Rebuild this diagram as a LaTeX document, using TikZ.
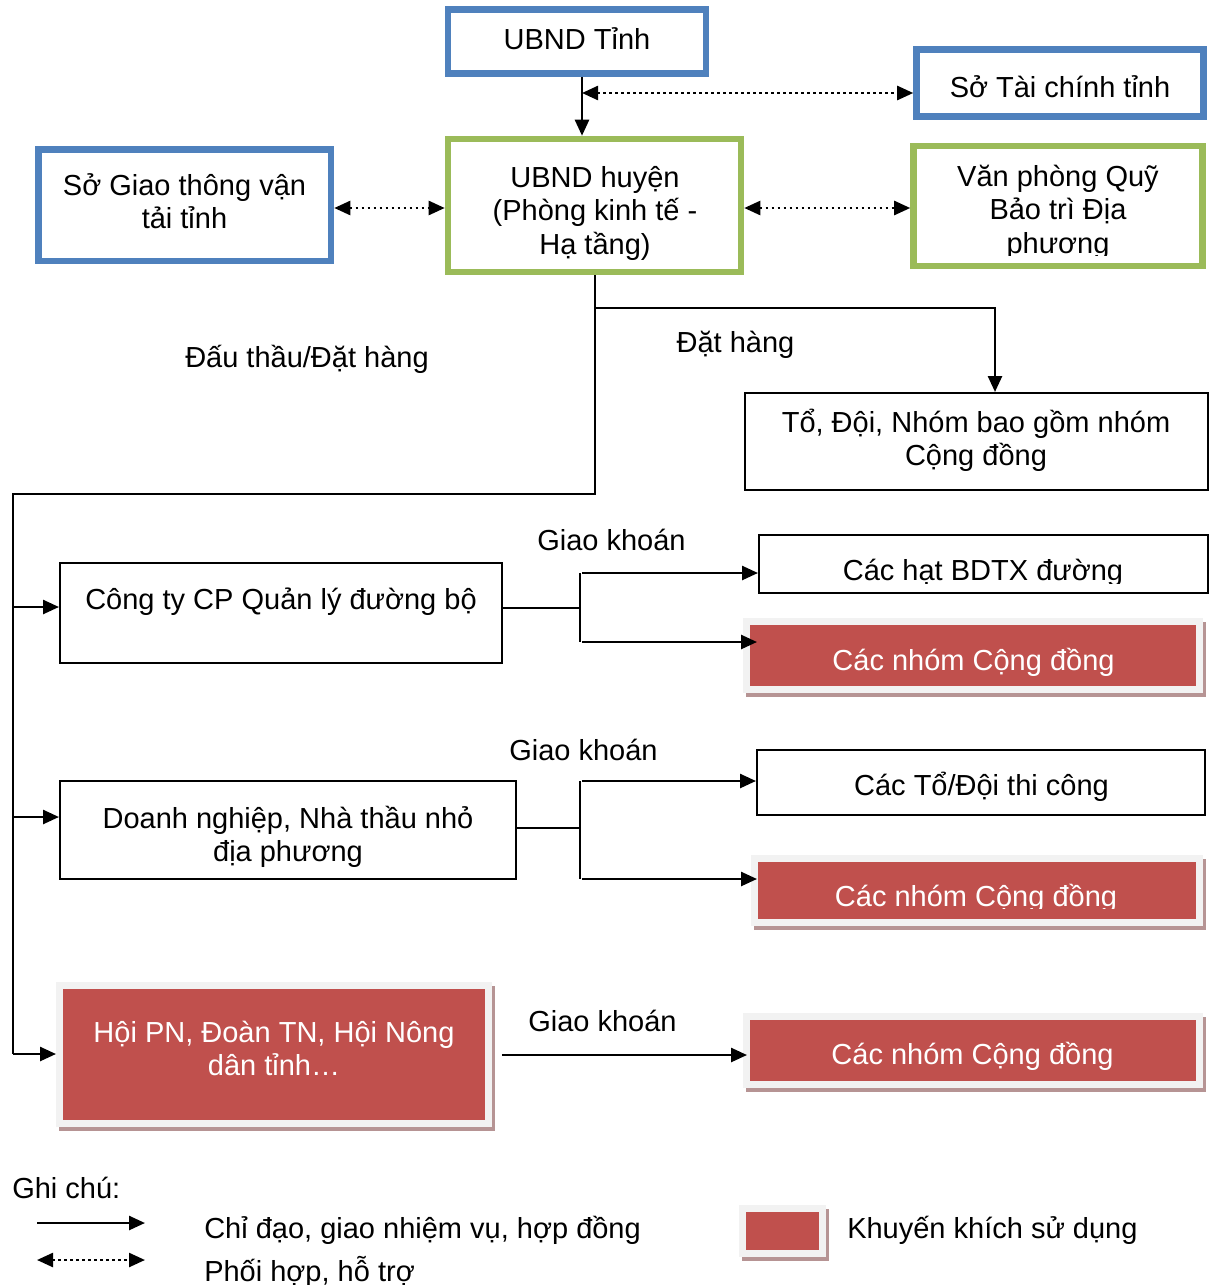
\documentclass[tikz,border=0pt]{standalone}
\usepackage{fontspec}
\setmainfont{Liberation Sans}
\usetikzlibrary{arrows.meta,shadows}
\newdimen\pxu \pxu=0.75pt
\definecolor{bluebd}{HTML}{4F81BD}
\definecolor{greenbd}{HTML}{9BBB59}
\definecolor{redfill}{HTML}{C0504D}
\definecolor{framegrey}{HTML}{F2F2F2}
\definecolor{shadowc}{HTML}{B69494}
\newcommand\rectnode[6]{\node[#1, minimum width={(#5-#3)*\pxu}, minimum height={(#6-#4)*\pxu}] (#2) at ({(#3+#5)/2},{(#4+#6)/2}) {};}
\begin{document}
\begin{tikzpicture}[x=0.75pt,y=-0.75pt,
  boxbase/.style={rectangle, inner sep=0pt},
  bluebox/.style={boxbase, draw=bluebd, line width=4.9pt},
  greenbox/.style={boxbase, draw=greenbd, line width=4.9pt},
  plainbox/.style={boxbase, draw=black, line width=1.5pt},
  redbox/.style={boxbase, fill=redfill, draw=framegrey, line width=5.6pt,
     general shadow={fill=shadowc, draw=shadowc, line width=5.6pt, shadow xshift=2.25pt, shadow yshift=-3pt}},
  lbl/.style={font=\fontsize{21.75}{25.1}\selectfont, align=center, inner sep=0pt, anchor=base},
  lblw/.style={lbl, text=white},
  conn/.style={line width=1.9pt},
  thinconn/.style={line width=1.4pt},
  arr/.style={conn, -{Triangle[length=12pt, width=10.5pt]}},
  dotarr/.style={line width=1.8pt, dash pattern=on 1.8pt off 2.7pt,
     {Triangle[length=12pt, width=10.5pt]}-{Triangle[length=12pt, width=10.5pt]}}
]
\useasboundingbox (0,0) rectangle (1210,1285);

% boxes
\rectnode{bluebox}{ubndt}{448}{9.5}{706}{73.5}
\rectnode{bluebox}{stc}{916.5}{49.5}{1203.5}{116.5}
\rectnode{bluebox}{sgt}{38.5}{149.5}{331}{261}
\rectnode{greenbox}{ubndh}{448}{139}{741}{272}
\rectnode{greenbox}{vpq}{913.5}{146}{1202.5}{266}
\rectnode{plainbox}{tod}{745}{393}{1208}{490}
\rectnode{plainbox}{cty}{60}{563}{502}{663}
\rectnode{plainbox}{hat}{759}{535}{1208}{593}
\rectnode{redbox}{red1}{746.75}{621.75}{1199.25}{689.25}
\rectnode{plainbox}{dn}{60}{781}{516}{879}
\rectnode{plainbox}{todoi}{757}{750}{1205}{815}
\rectnode{redbox}{red2}{754.75}{858.75}{1199.25}{922.25}
\rectnode{redbox}{hoi}{59.75}{985.75}{488.25}{1123.25}
\rectnode{redbox}{red3}{746.75}{1016.75}{1199.25}{1084.25}
\rectnode{redbox}{legred}{742.75}{1208.75}{822.25}{1253.25}

% box texts (multi-line nodes: base = last line)
\node[lbl] (ubndt-t) at (577,49) {UBND Tỉnh};
\node[lbl] (stc-t) at (1060,97) {Sở Tài chính tỉnh};
\node[lbl] (sgt-t) at (184.5,228.5) {Sở Giao thông vận\\tải tỉnh};
\node[lbl] (ubndh-t) at (595,254) {UBND huyện\\(Phòng kinh tế -\\Hạ tầng)};
\begin{scope}
\clip (913.5,146) rectangle (1202.5,255);
\node[lbl] (vpq-t) at (1058,253) {Văn phòng Quỹ\\Bảo trì Địa\\phương};
\end{scope}
\node[lbl] (tod-t) at (976,465.5) {Tổ, Đội, Nhóm bao gồm nhóm\\Cộng đồng};
\node[lbl] (cty-t) at (281,609) {Công ty CP Quản lý đường bộ};
\begin{scope}
\clip (759,535) rectangle (1208,583);
\node[lbl] (hat-t) at (983,580) {Các hạt BDTX đường};
\end{scope}
\node[lblw] (red1-t) at (973.5,670) {Các nhóm Cộng đồng};
\node[lbl] (dn-t) at (288,861.5) {Doanh nghiệp, Nhà thầu nhỏ\\địa phương};
\node[lbl] (todoi-t) at (981.5,795) {Các Tổ/Đội thi công};
\begin{scope}
\clip (754.75,858.75) rectangle (1199.25,908);
\node[lblw] (red2-t) at (976,906) {Các nhóm Cộng đồng};
\end{scope}
\node[lblw] (hoi-t) at (274,1075.5) {Hội PN, Đoàn TN, Hội Nông\\dân tỉnh…};
\begin{scope}
\clip (746.75,1016.75) rectangle (1199.25,1071);
\node[lblw] (red3-t) at (972.5,1064) {Các nhóm Cộng đồng};
\end{scope}

% connector labels
\node[lbl] (dtdh) at (307,367) {Đấu thầu/Đặt hàng};
\node[lbl] (dh) at (735.5,352) {Đặt hàng};
\node[lbl] (gk1) at (611.5,550) {Giao khoán};
\node[lbl] (gk2) at (583.5,760) {Giao khoán};
\node[lbl] (gk3) at (602.5,1031) {Giao khoán};

% connectors top
\coordinate (tx) at (582,0);
\draw[arr] (ubndt.south -| tx) -- (ubndh.north -| tx);
\coordinate (d1) at (582,93);
\draw[dotarr] (d1) -- (stc.west |- d1);
\coordinate (r208) at (0,208);
\draw[dotarr] (sgt.east |- r208) -- (ubndh.west |- r208);
\draw[dotarr] (ubndh.east |- r208) -- (vpq.west |- r208);

% trunk
\coordinate (j1) at (595,308);
\coordinate (j2) at (595,494);
\coordinate (j3) at (13,494);
\coordinate (j4) at (13,1054);
\coordinate (j5) at (995,308);
\draw[conn] (ubndh.south -| j1) -- (j2) -- (j3) -- (j4);
\draw[arr] (j1) -- (j5) -- (tod.north -| j5);
\coordinate (b1) at (13,607);
\coordinate (b2) at (13,817);
\draw[arr] (b1) -- (cty.west |- b1);
\draw[arr] (b2) -- (dn.west |- b2);
\draw[arr] (j4) -- (hoi.west |- j4);

% fork 1
\coordinate (f1) at (580,608);
\coordinate (f1a) at (580,573);
\coordinate (f1b) at (580,642);
\coordinate (g1a) at (582,573);
\coordinate (g1b) at (582,642);
\path ([xshift=10.5pt]red1.west) coordinate (t1);
\draw[thinconn] (cty.east |- f1) -- (f1);
\draw[thinconn] (f1a) -- (f1b);
\draw[arr] (g1a) -- (hat.west |- g1a);
\draw[arr] (g1b) -- (t1 |- g1b);

% fork 2
\coordinate (f2) at (580,828);
\coordinate (f2a) at (580,781);
\coordinate (f2b) at (580,879);
\coordinate (g2a) at (582,781);
\coordinate (g2b) at (582,879);
\path ([xshift=4.5pt]red2.west) coordinate (t2);
\draw[thinconn] (dn.east |- f2) -- (f2);
\draw[thinconn] (f2a) -- (f2b);
\draw[arr] (g2a) -- (todoi.west |- g2a);
\draw[arr] (g2b) -- (t2 |- g2b);

% row 3
\coordinate (h3) at (0,1055);
\path ([xshift=7.5pt]hoi.east) coordinate (s3);
\path ([xshift=3pt]red3.west) coordinate (t3);
\draw[arr] (s3 |- h3) -- (t3 |- h3);

% legend
\node[lbl, anchor=base west] (gc) at (12,1198) {Ghi chú:};
\coordinate (la1) at (37,1223);
\coordinate (la2) at (145,1223);
\draw[arr] (la1) -- (la2);
\coordinate (lb1) at (37,1260);
\coordinate (lb2) at (145,1260);
\draw[dotarr] (lb1) -- (lb2);
\node[lbl, anchor=base west] (leg1) at (204,1238) {Chỉ đạo, giao nhiệm vụ, hợp đồng};
\node[lbl, anchor=base west] (leg2) at (204,1281) {Phối hợp, hỗ trợ};
\node[lbl, anchor=base west] (leg3) at (847,1238) {Khuyến khích sử dụng};
\end{tikzpicture}
\end{document}
